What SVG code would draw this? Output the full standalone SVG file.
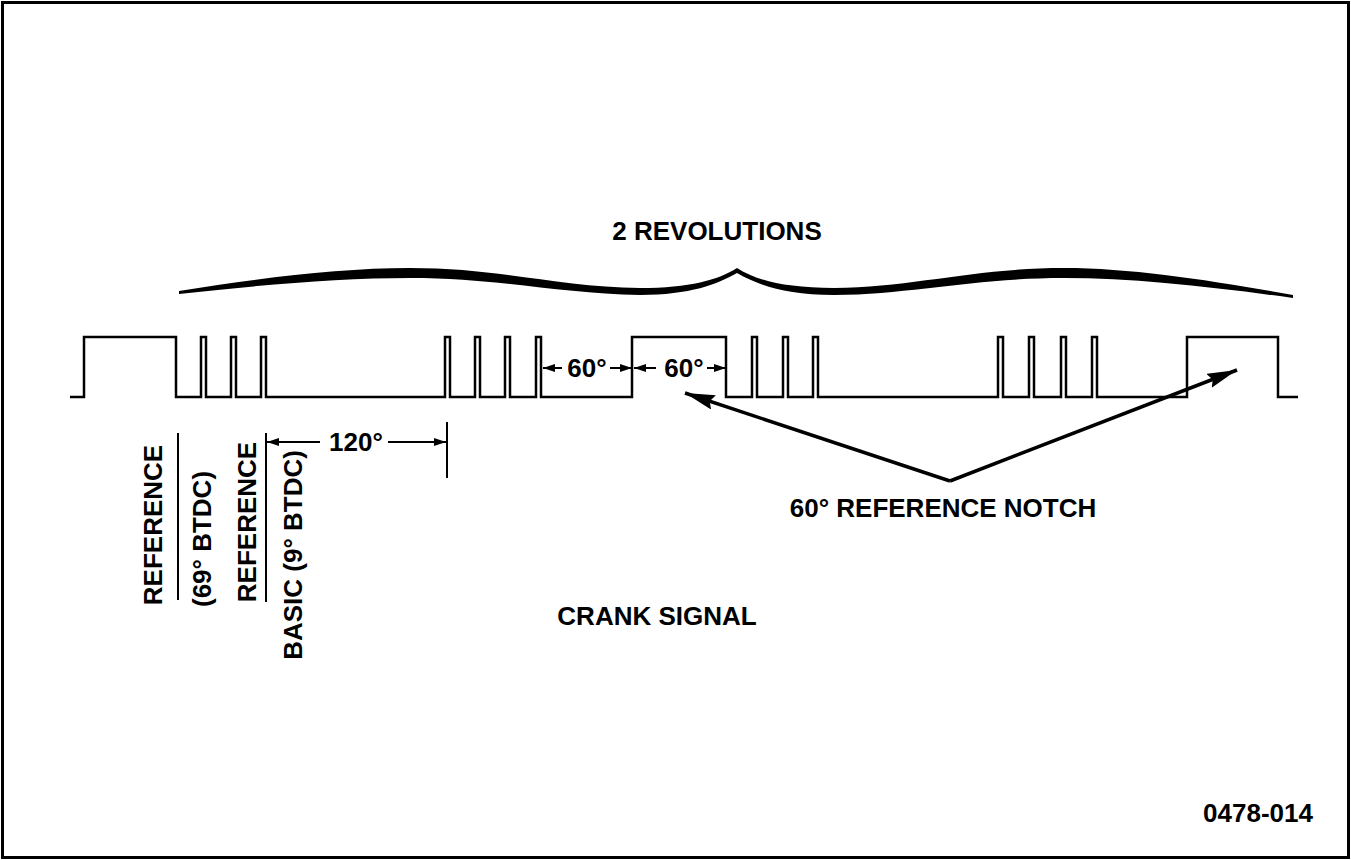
<svg xmlns="http://www.w3.org/2000/svg" width="1351" height="860" viewBox="0 0 1351 860">
<style>
.t{font-family:"Liberation Sans",Arial,sans-serif;font-weight:bold;font-size:26px;fill:#000}
.sig{fill:none;stroke:#000;stroke-width:2.5;stroke-linejoin:miter}
.ln{fill:none;stroke:#000;stroke-width:2}
.big{fill:none;stroke:#000;stroke-width:3.5}
</style>
<defs>
<marker id="ah" viewBox="0 0 12 8" refX="12" refY="4" markerWidth="12" markerHeight="8" markerUnits="userSpaceOnUse" orient="auto"><path d="M0,0 L12,4 L0,8 Z" fill="#000"/></marker>
<marker id="bh" viewBox="0 0 30 15" refX="30" refY="7.5" markerWidth="30" markerHeight="15" markerUnits="userSpaceOnUse" orient="auto"><path d="M0,0 L30,7.5 L0,15 L4,7.5 Z" fill="#000"/></marker>
</defs>
<rect x="2.5" y="2.5" width="1346" height="855" fill="#fff" stroke="#000" stroke-width="3"/>
<g id="brace">
<path d="M179,291 C260,278 340,268 410,268 C500,268 560,287 640,288 C690,288 718,280 737,268 C756,280 784,288 834,288 C914,287 974,268 1064,268 C1134,268 1214,281 1293,295 L1293,298 C1214,287 1134,278 1064,278 C974,278 914,294 834,295 C784,295 756,284 737,273 C718,284 690,295 640,295 C560,294 500,278 410,278 C340,278 260,285 179,294 Z" fill="#000"/>
<text class="t" x="717" y="240" text-anchor="middle">2 REVOLUTIONS</text>
</g>
<g id="signal">
<path class="sig" d="M70,397 H84 V337 H176 V397 H201 V337 H206 V397 H231 V337 H236 V397 H261 V337 H266 V397 H445 V337 H450 V397 H475 V337 H480 V397 H505 V337 H510 V397 H536 V337 H541 V397 H632 V337 H726 V397 H752 V337 H757 V397 H783 V337 H788 V397 H813 V337 H818 V397 H998 V337 H1003 V397 H1029 V337 H1034 V397 H1061 V337 H1066 V397 H1092 V337 H1097 V397 H1187 V337 H1278 V397 H1298"/>
</g>
<g id="connectors">
<line class="ln" x1="562" y1="368" x2="543" y2="368" marker-end="url(#ah)"/>
<line class="ln" x1="610" y1="368" x2="632" y2="368" marker-end="url(#ah)"/>
<line class="ln" x1="656" y1="368" x2="634" y2="368" marker-end="url(#ah)"/>
<line class="ln" x1="707" y1="368" x2="726" y2="368" marker-end="url(#ah)"/>
<line class="ln" x1="320" y1="442" x2="267" y2="442" marker-end="url(#ah)"/>
<line class="ln" x1="388" y1="442" x2="446" y2="442" marker-end="url(#ah)"/>
<line class="ln" x1="447" y1="422" x2="447" y2="478"/>
<line class="ln" x1="178" y1="433" x2="178" y2="600"/>
<line class="ln" x1="266" y1="433" x2="266" y2="602"/>
<line class="big" x1="950" y1="481" x2="685" y2="393" marker-end="url(#bh)"/>
<line class="big" x1="950" y1="481" x2="1237" y2="370" marker-end="url(#bh)"/>
</g>
<g id="dim-labels">
<text class="t" x="587" y="377" text-anchor="middle">60°</text>
<text class="t" x="684" y="377" text-anchor="middle">60°</text>
<text class="t" x="356" y="451" text-anchor="middle">120°</text>
</g>
<g id="ref-labels">
<text class="t" transform="translate(162,525) rotate(-90)" text-anchor="middle">REFERENCE</text>
<text class="t" transform="translate(211,539) rotate(-90)" text-anchor="middle">(69° BTDC)</text>
<text class="t" transform="translate(256,522) rotate(-90)" text-anchor="middle">REFERENCE</text>
<text class="t" transform="translate(302,555) rotate(-90)" text-anchor="middle">BASIC (9° BTDC)</text>
</g>
<g id="notch-label">
<text class="t" x="943" y="517" text-anchor="middle">60° REFERENCE NOTCH</text>
</g>
<g id="title">
<text class="t" x="657" y="625" text-anchor="middle">CRANK SIGNAL</text>
</g>
<g id="figno">
<text class="t" x="1313" y="822" text-anchor="end">0478-014</text>
</g>
</svg>
